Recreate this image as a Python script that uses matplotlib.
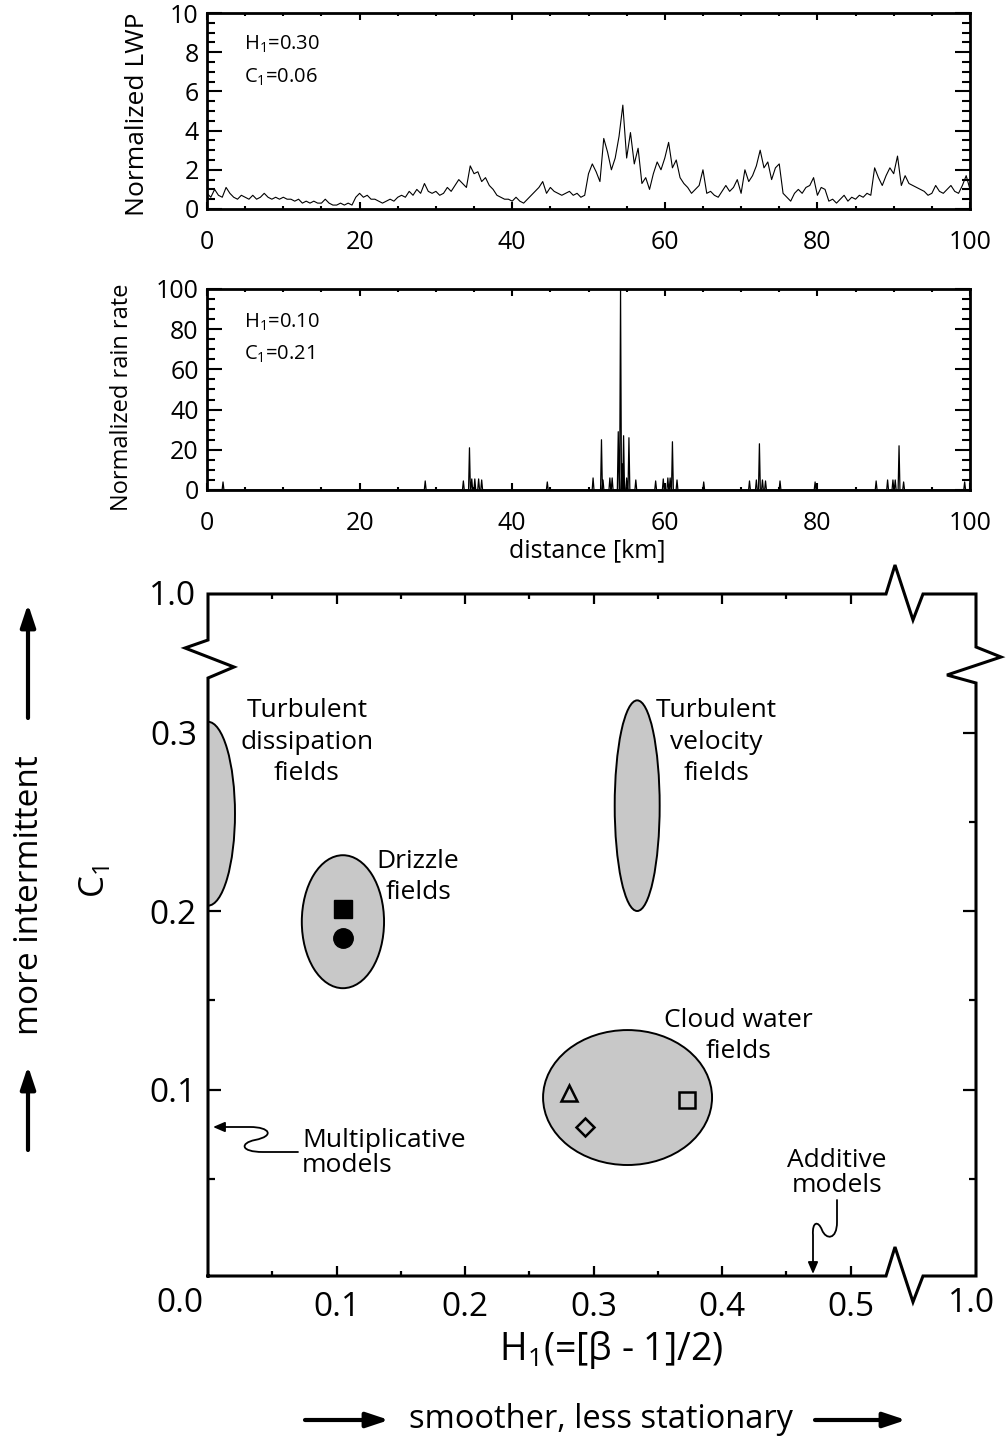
import numpy as np
import matplotlib
matplotlib.use("Agg")
import matplotlib.pyplot as plt
from matplotlib.patches import Ellipse, FancyArrowPatch
from matplotlib.path import Path

plt.rcParams["font.family"] = ["Open Sans", "DejaVu Sans"]
plt.rcParams["mathtext.fontset"] = "custom"
plt.rcParams["mathtext.rm"] = "Open Sans"

W, H = 1006, 1449

# --- normalized liquid water path, sampled every 0.5 km -------------------
lwp_step_km = 0.5
lwp = [
    0.8, 0.6, 1.0, 0.7, 0.6, 1.1, 0.8, 0.6, 0.5, 0.7,
    0.6, 0.5, 0.7, 0.5, 0.6, 0.8, 0.6, 0.5, 0.6, 0.5,
    0.6, 0.5, 0.5, 0.4, 0.5, 0.3, 0.4, 0.3, 0.4, 0.3,
    0.3, 0.5, 0.3, 0.2, 0.2, 0.3, 0.2, 0.3, 0.2, 0.6,
    0.8, 0.6, 0.7, 0.5, 0.5, 0.4, 0.3, 0.4, 0.5, 0.4,
    0.6, 0.7, 0.6, 0.9, 0.7, 1.0, 0.8, 1.3, 0.9, 0.8,
    0.9, 0.7, 0.8, 1.1, 0.9, 1.2, 1.5, 1.3, 1.1, 2.2,
    1.8, 1.9, 1.4, 1.6, 1.2, 1.0, 0.7, 0.6, 0.5, 0.5,
    0.4, 0.6, 0.4, 0.3, 0.5, 0.7, 0.9, 1.1, 1.4, 0.8,
    1.1, 0.9, 0.8, 0.7, 0.8, 0.9, 0.7, 0.8, 0.6, 0.7,
    1.8, 2.3, 1.9, 1.4, 3.6, 2.9, 2.0, 2.6, 3.7, 5.3,
    2.6, 3.9, 2.3, 3.1, 1.3, 1.6, 1.0, 1.8, 2.4, 2.0,
    2.6, 3.4, 2.1, 2.5, 1.6, 1.3, 1.1, 0.8, 1.0, 1.2,
    2.0, 0.8, 0.9, 0.7, 0.6, 0.9, 1.2, 0.9, 1.1, 1.5,
    0.8, 2.0, 1.4, 1.7, 2.2, 3.0, 2.1, 2.4, 1.5, 2.1,
    2.3, 0.8, 0.6, 0.4, 0.8, 1.0, 0.8, 1.1, 1.2, 1.6,
    0.7, 1.1, 1.0, 0.4, 0.5, 0.3, 0.5, 0.7, 0.4, 0.6,
    0.5, 0.7, 0.6, 0.8, 0.7, 2.1, 1.6, 1.2, 1.7, 2.1,
    1.8, 2.7, 1.2, 1.7, 1.3, 1.2, 1.1, 1.0, 0.9, 0.7,
    0.8, 1.2, 0.9, 0.8, 1.0, 1.2, 0.9, 0.8, 1.2, 1.7,
    1.0,
]
lwp_km = np.arange(len(lwp)) * lwp_step_km

# --- normalized rain rate: isolated showers, zero elsewhere ---------------
rain_km = [2.1, 28.6, 33.6, 34.4, 34.7, 35.1, 35.6, 36.0, 44.6, 50.6,
           51.7, 51.9, 52.8, 53.1, 53.9, 54.2, 54.4, 54.6, 55.0, 55.3,
           56.2, 58.8, 59.8, 60.4, 60.7, 61.0, 61.6, 65.1, 71.1, 72.0,
           72.4, 72.8, 73.2, 75.1, 79.7, 87.7, 89.2, 89.9, 90.2, 90.7,
           91.3, 99.3]
rain_rate = [4, 4.5, 4.5, 21, 5.5, 5.5, 5.5, 5, 4, 6,
             25, 5, 6, 6, 29, 100, 13, 27, 6, 26,
             5, 4.5, 5.5, 6, 6, 24, 5, 4, 4.5, 5,
             23, 5, 4.5, 4.5, 4, 4.5, 5, 5, 5, 22,
             4, 4]
spike_half_width_km = 0.12

# --- (H1, C1) diagram -----------------------------------------------------
region_labels = ["Turbulent\ndissipation\nfields", "Drizzle\nfields",
                 "Turbulent\nvelocity\nfields", "Cloud water\nfields"]
region_h1 = [0.0, 0.105, 0.334, 0.3265]
region_c1 = [0.2545, 0.194, 0.259, 0.0955]
region_dh1 = [0.042, 0.064, 0.035, 0.1315]
region_dc1 = [0.103, 0.0745, 0.118, 0.0756]

filled_h1 = [0.105, 0.105]
filled_c1 = [0.201, 0.185]
filled_marker = ["s", "o"]

open_h1 = [0.281, 0.293, 0.373]
open_c1 = [0.098, 0.079, 0.094]
open_marker = ["^", "D", "s"]


def fpx(x, y):
    """pixel position (from top-left) -> figure fraction"""
    return x / W, 1.0 - y / H


fig = plt.figure(figsize=(W / 100, H / 100), dpi=100)
fig.patch.set_facecolor("white")


def style_series_axes(ax):
    for s in ax.spines.values():
        s.set_linewidth(2.0)
    ax.tick_params(which="both", direction="in", top=True, right=True,
                   width=1.5, labelsize=18)
    ax.tick_params(axis="x", which="major", length=5, pad=15)
    ax.tick_params(axis="x", which="minor", length=2.5)
    ax.tick_params(axis="y", which="major", length=11, pad=6)
    ax.tick_params(axis="y", which="minor", length=5.5)
    ax.set_xlim(0, 100)
    ax.set_xticks(np.arange(0, 101, 20))
    ax.set_xticks(np.arange(0, 101, 5), minor=True)


# LWP series
ax1 = fig.add_axes([207 / W, 1 - 209 / H, 763 / W, 196 / H])
ax1.plot(lwp_km, lwp, color="black", lw=0.8)
style_series_axes(ax1)
ax1.set_ylim(0, 10)
ax1.set_yticks(np.arange(0, 11, 2))
ax1.set_yticks(np.arange(0, 10.01, 0.5), minor=True)
ax1.text(0.048, 0.84, r"H$_\mathregular{1}$=0.30", transform=ax1.transAxes,
         fontsize=14.5, va="center")
ax1.text(0.048, 0.67, r"C$_\mathregular{1}$=0.06", transform=ax1.transAxes,
         fontsize=14.5, va="center")
fig.text(*fpx(137, 114), "Normalized LWP", rotation=90, fontsize=19,
         ha="center", va="center")

# rain rate series drawn as narrow spikes on a zero background
rx, ry = [0.0], [0.0]
for k, r in zip(rain_km, rain_rate):
    rx += [k - spike_half_width_km, k, k + spike_half_width_km]
    ry += [0.0, r, 0.0]
rx.append(100.0)
ry.append(0.0)
ax2 = fig.add_axes([207 / W, 1 - 490 / H, 763 / W, 201 / H])
ax2.plot(rx, ry, color="black", lw=0.9)
style_series_axes(ax2)
ax2.set_ylim(0, 100)
ax2.set_yticks(np.arange(0, 101, 20))
ax2.set_yticks(np.arange(0, 101, 5), minor=True)
ax2.text(0.048, 0.835, r"H$_\mathregular{1}$=0.10", transform=ax2.transAxes,
         fontsize=14.5, va="center")
ax2.text(0.048, 0.675, r"C$_\mathregular{1}$=0.21", transform=ax2.transAxes,
         fontsize=14.5, va="center")
fig.text(*fpx(122, 397), "Normalized rain rate", rotation=90, fontsize=17,
         ha="center", va="center")
fig.text(*fpx(587, 551), "distance [km]", fontsize=18, ha="center", va="center")

# (H1, C1) diagram with broken axes
ax3 = fig.add_axes([208 / W, 1 - 1276 / H, 768 / W, 682 / H])
ax3.set_xlim(0, 768 / 1285)
ax3.set_ylim(-8 / 1785, 674 / 1785)
for s in ax3.spines.values():
    s.set_visible(False)
ax3.set_xticks([0.1, 0.2, 0.3, 0.4, 0.5])
ax3.set_xticks([0.05, 0.15, 0.25, 0.35, 0.45], minor=True)
ax3.set_yticks([0.1, 0.2, 0.3])
ax3.set_yticks([0.05, 0.15, 0.25], minor=True)
ax3.set_xticklabels(["0.1", "0.2", "0.3", "0.4", "0.5"])
ax3.set_yticklabels(["0.1", "0.2", "0.3"])
ax3.tick_params(which="both", direction="in", top=True, right=True,
                width=1.6, labelsize=24)
ax3.tick_params(axis="x", which="major", length=7.5, pad=11)
ax3.tick_params(axis="x", which="minor", length=3.8)
ax3.tick_params(axis="y", which="major", length=9.5, pad=8)
ax3.tick_params(axis="y", which="minor", length=5)


def frame_xy(pts):
    return ([(p[0] - 208) / 768 for p in pts], [(1276 - p[1]) / 682 for p in pts])


frame_pts = [(208, 1276), (208, 678), (234, 667), (185, 648), (208, 640),
             (208, 594), (886, 594), (895, 565), (913, 620), (923, 594),
             (976, 594), (976, 647), (1001, 657), (947, 675), (976, 683),
             (976, 1276), (923, 1276), (913, 1302), (895, 1247), (886, 1276),
             (208, 1276)]
fx, fy = frame_xy(frame_pts)
ax3.plot(fx, fy, color="black", lw=2.2, transform=ax3.transAxes,
         clip_on=False, solid_joinstyle="miter", zorder=5)

for h, c, dh, dc in zip(region_h1, region_c1, region_dh1, region_dc1):
    ax3.add_patch(Ellipse((h, c), dh, dc, facecolor="#c8c8c8",
                          edgecolor="black", lw=1.4, zorder=2))
for h, c, m in zip(filled_h1, filled_c1, filled_marker):
    ax3.plot(h, c, marker=m, color="black", ms=13 if m == "s" else 14,
             zorder=4)
for h, c, m in zip(open_h1, open_c1, open_marker):
    ax3.plot(h, c, marker=m, mfc="none", mec="black", mew=1.8,
             ms=12 if m != "D" else 9, zorder=4)

label_pos = [(307, 742), (418, 877), (716, 742), (738, 1036)]
for text, (px, py) in zip(region_labels, label_pos):
    fig.text(*fpx(px, py), text, fontsize=19, ha="center", va="center",
             linespacing=1.32)

fig.text(*fpx(302, 1153), "Multiplicative\nmodels", fontsize=19, ha="left",
         va="center", linespacing=0.98)
fig.text(*fpx(837, 1173), "Additive\nmodels", fontsize=19, ha="center",
         va="center", linespacing=0.95)


def squiggle(pts, codes):
    verts = [fpx(*p) for p in pts]
    arrow = FancyArrowPatch(path=Path(verts, codes), transform=fig.transFigure,
                            arrowstyle="-|>,head_length=0.7,head_width=0.3",
                            mutation_scale=10, lw=1.3, color="black",
                            shrinkA=0, shrinkB=0)
    fig.add_artist(arrow)


C4, L, M = Path.CURVE4, Path.LINETO, Path.MOVETO
squiggle([(298, 1152), (263, 1152), (240, 1152), (240, 1143), (255, 1140),
          (275, 1136), (270, 1127), (250, 1127), (213, 1127)],
         [M, L, C4, C4, C4, C4, C4, C4, L])
squiggle([(837, 1200), (837, 1222), (837, 1240), (826, 1240), (822, 1230),
          (818, 1220), (812, 1222), (813, 1235), (813, 1274)],
         [M, L, C4, C4, C4, C4, C4, C4, L])

# axis end labels at the broken corners
fig.text(*fpx(196, 597), "1.0", fontsize=24, ha="right", va="center")
fig.text(*fpx(180, 1303), "0.0", fontsize=24, ha="center", va="center")
fig.text(*fpx(972, 1303), "1.0", fontsize=24, ha="center", va="center")

fig.text(*fpx(611, 1350), r"H$_\mathregular{1}$(=[β - 1]/2)", fontsize=27,
         ha="center", va="center")
fig.text(*fpx(95, 882), r"C$_\mathregular{1}$", fontsize=25, rotation=90,
         ha="center", va="center")
fig.text(*fpx(601, 1420), "smoother, less stationary", fontsize=23.5,
         ha="center", va="center")
fig.text(*fpx(30, 895), "more intermittent", fontsize=24, rotation=90,
         ha="center", va="center")


def big_arrow(p0, p1):
    arrow = FancyArrowPatch(fpx(*p0), fpx(*p1), transform=fig.transFigure,
                            arrowstyle="-|>,head_length=0.9,head_width=0.3",
                            mutation_scale=15, lw=3, color="black",
                            shrinkA=0, shrinkB=0)
    fig.add_artist(arrow)


big_arrow((28, 718), (28, 604))
big_arrow((28, 1150), (28, 1066))
big_arrow((305, 1420), (389, 1420))
big_arrow((815, 1420), (906, 1420))

fig.savefig("out.png", dpi=100)
